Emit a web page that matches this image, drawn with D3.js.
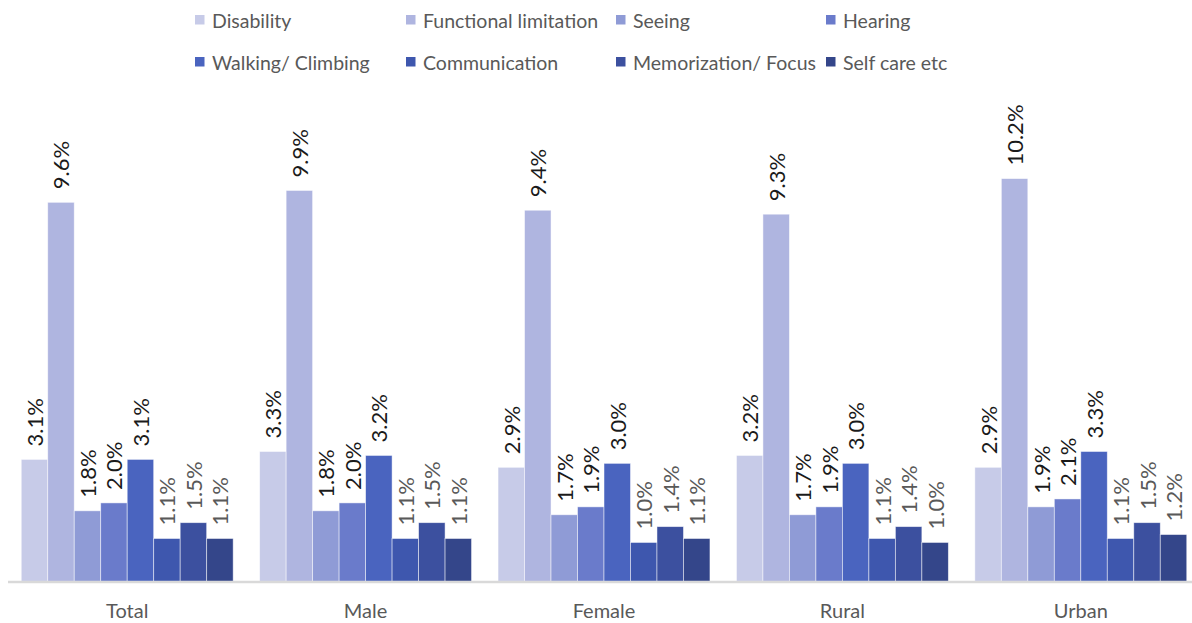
<!DOCTYPE html>
<html>
<head>
<meta charset="utf-8">
<script src="https://cdn.jsdelivr.net/npm/d3@7"></script>
<style>
  html, body { margin: 0; padding: 0; background: #fff; }
  svg { display: block; }
  text { font-family: Lato, "Open Sans", sans-serif; }
</style>
</head>
<body>
<svg id="chart" width="1192" height="623"></svg>
<script>
const categories = ["Total", "Male", "Female", "Rural", "Urban"];
const series = ["Disability", "Functional limitation", "Seeing", "Hearing",
                "Walking/ Climbing", "Communication", "Memorization/ Focus", "Self care etc"];
const disability   = [3.1, 3.3, 2.9, 3.2, 2.9];
const functional   = [9.6, 9.9, 9.4, 9.3, 10.2];
const seeing       = [1.8, 1.8, 1.7, 1.7, 1.9];
const hearing      = [2.0, 2.0, 1.9, 1.9, 2.1];
const walking      = [3.1, 3.2, 3.0, 3.0, 3.3];
const communication= [1.1, 1.1, 1.0, 1.1, 1.1];
const memorization = [1.5, 1.5, 1.4, 1.4, 1.5];
const selfcare     = [1.1, 1.1, 1.1, 1.0, 1.2];
const seriesValues = [disability, functional, seeing, hearing, walking, communication, memorization, selfcare];
const colors = ["#C7CBE8", "#AFB5E0", "#8F9BD6", "#6A7BCB", "#4A64BF", "#3E57AE", "#3C509F", "#34468A"];
const labelColors = ["#1a1a1a", "#1a1a1a", "#1a1a1a", "#1a1a1a", "#1a1a1a", "#595959", "#595959", "#595959"];

const svg = d3.select("#chart");

const x0 = d3.scaleBand().domain(categories).range([8, 8 + 5 * 238.4]).padding(0);
const x1 = d3.scaleBand().domain(series).range([0, x0.bandwidth()]).paddingInner(0).paddingOuter(0.5);
const y = d3.scaleLinear().domain([0, 12]).range([582, 582 - 12 * 39.55]);

const data = [];
categories.forEach((c, ci) => {
  series.forEach((s, si) => {
    data.push({ cat: c, ser: s, si, v: seriesValues[si][ci] });
  });
});

const g = svg.append("g");
g.selectAll("rect.bar").data(data).join("rect")
  .attr("class", "bar")
  .attr("x", d => x0(d.cat) + x1(d.ser))
  .attr("y", d => y(d.v))
  .attr("width", x1.bandwidth())
  .attr("height", d => y(0) - y(d.v))
  .attr("fill", d => colors[d.si])
  .attr("stroke", "rgba(255,255,255,0.6)")
  .attr("stroke-width", 0.8);

// axis
const xAxis = d3.axisBottom(x0).tickSize(0).tickPadding(22);
const ax = svg.append("g").attr("transform", `translate(0,${y(0)})`).call(xAxis);
ax.select(".domain").attr("stroke", "#D9D9D9").attr("stroke-width", 2.5)
  .attr("d", `M8,0H1192`);
ax.selectAll(".tick text").attr("font-size", 20).attr("fill", "#595959")
  .style("font-family", "Lato, 'Open Sans', sans-serif");

// data labels
g.selectAll("text.lbl").data(data).join("text")
  .attr("class", "lbl")
  .attr("transform", d => `translate(${x0(d.cat) + x1(d.ser) + x1.bandwidth() / 2 + 8.5},${y(d.v) - 13}) rotate(-90)`)
  .attr("text-anchor", "start")
  .attr("font-size", 22)
  .attr("fill", d => labelColors[d.si])
  .text(d => d.v.toFixed(1) + "%");

// legend
const legX = [195, 406, 616, 826];
const legY = [20, 62];
const leg = svg.append("g").selectAll("g").data(series).join("g")
  .attr("transform", (d, i) => `translate(${legX[i % 4]},${legY[Math.floor(i / 4)]})`);
leg.append("rect").attr("x", 0).attr("y", -5).attr("width", 9.5).attr("height", 9.5)
  .attr("fill", (d, i) => colors[i]);
leg.append("text").attr("x", 17).attr("y", 1.5).attr("dy", "0.35em")
  .attr("font-size", 19.5).attr("fill", "#595959").text(d => d);
</script>
</body>
</html>
